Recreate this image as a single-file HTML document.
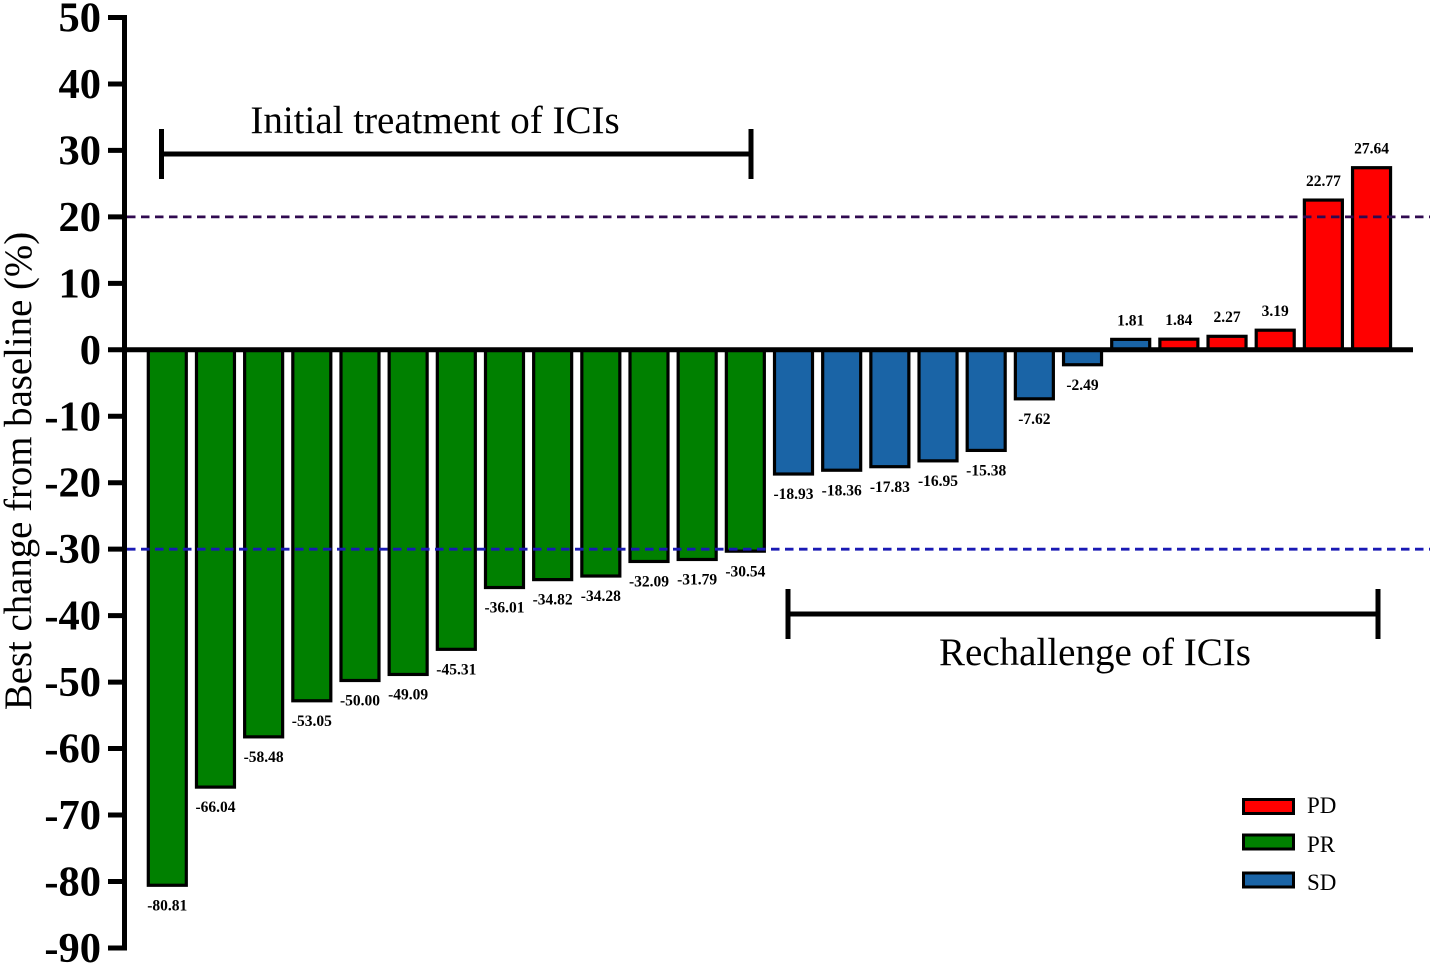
<!DOCTYPE html>
<html>
<head>
<meta charset="utf-8">
<style>
html,body{margin:0;padding:0;background:#fff;}
svg{display:block;font-family:"Liberation Serif",serif;}
</style>
</head>
<body>
<svg id="chart" width="1440" height="969" viewBox="0 0 1440 969" xmlns="http://www.w3.org/2000/svg"></svg>
<script>
const barValues = [-80.81,-66.04,-58.48,-53.05,-50.00,-49.09,-45.31,-36.01,-34.82,-34.28,-32.09,-31.79,-30.54,-18.93,-18.36,-17.83,-16.95,-15.38,-7.62,-2.49,1.81,1.84,2.27,3.19,22.77,27.64];
const barResponses = ["PR","PR","PR","PR","PR","PR","PR","PR","PR","PR","PR","PR","PR","SD","SD","SD","SD","SD","SD","SD","SD","PD","PD","PD","PD","PD"];
const yTicks = [50,40,30,20,10,0,-10,-20,-30,-40,-50,-60,-70,-80,-90];
const thresholds = [20,-30];
const legendEntries = ["PD","PR","SD"];

const svg = document.getElementById('chart');
const NS = 'http://www.w3.org/2000/svg';
const colors = {PD:'#ff0000',PR:'#008000',SD:'#1a64a6'};
const thresholdColors = ['#300a50','#1a1ab4'];
const yScale = v => 349.8 - v * 6.646;
const xScale = i => 167.3 + i * 48.17;

function make(tag, attrs, text) {
  const el = document.createElementNS(NS, tag);
  for (const k in attrs) el.setAttribute(k, attrs[k]);
  if (text !== undefined) el.textContent = text;
  svg.appendChild(el);
  return el;
}

// bars
barValues.forEach((v, i) => {
  const inset = 1.6;
  const end = yScale(v) + (v < 0 ? -inset : inset);
  const top = Math.min(end, yScale(0));
  const h = Math.abs(end - yScale(0));
  const bar = make('rect', {x: xScale(i) - 19, y: top, width: 38, height: h, fill: colors[barResponses[i]], stroke: '#000', 'stroke-width': 3.2});
  
  
  const ly = v < 0 ? yScale(v) + 23.5 : yScale(v) - 12.5;
  const label = make('text', {x: xScale(i), y: ly, 'text-anchor': 'middle', 'font-size': 15.5, 'font-weight': 'bold', fill: '#000'}, v.toFixed(2));
  
  
});

// threshold lines
thresholds.forEach((t, i) => {
  const line = make('line', {x1: 127, x2: 1430, y1: yScale(t), y2: yScale(t), stroke: thresholdColors[i], 'stroke-width': 2.8, 'stroke-dasharray': '8.5 5.5'});
  
  
});

// axes
const yAxis = make('line', {x1: 124.5, x2: 124.5, y1: yScale(50) - 2.5, y2: yScale(-90) + 2.5, stroke: '#000', 'stroke-width': 5});


const xAxis = make('line', {x1: 124, x2: 1413, y1: yScale(0), y2: yScale(0), stroke: '#000', 'stroke-width': 5});



yTicks.forEach(t => {
  const tick = make('line', {x1: 108, x2: 125, y1: yScale(t), y2: yScale(t), stroke: '#000', 'stroke-width': 5});
  
  
  const label = make('text', {x: 101, y: yScale(t) + 14, 'text-anchor': 'end', 'font-size': 42.5, 'font-weight': 'bold', fill: '#000'}, String(t));
  
  
});

// y-axis title
const yTitle = make('text', {x: 0, y: 0, transform: 'translate(31 471) rotate(-90)', 'text-anchor': 'middle', 'font-size': 38.8, fill: '#000'}, 'Best change from baseline (%)');



// brackets
function bracket(x1, x2, y, name) {
  const d = 'M' + x1 + ' ' + (y - 25) + 'V' + (y + 25) + 'M' + x1 + ' ' + y + 'H' + x2 + 'M' + x2 + ' ' + (y - 25) + 'V' + (y + 25);
  const p = make('path', {d: d, fill: 'none', stroke: '#000', 'stroke-width': 5});
  
  
}
bracket(161.5, 751, 154, 'initial-treatment-bracket');
bracket(788, 1378, 614, 'rechallenge-bracket');

const t1 = make('text', {x: 435, y: 133, 'text-anchor': 'middle', 'font-size': 39, fill: '#000'}, 'Initial treatment of ICIs');


const t2 = make('text', {x: 1095, y: 665, 'text-anchor': 'middle', 'font-size': 39, fill: '#000'}, 'Rechallenge of ICIs');



// legend
const legendRowY = [806.5, 842, 880];
const legendTextY = [813, 852, 890];
legendEntries.forEach((e, i) => {
  const sw = make('rect', {x: 1243.5, y: legendRowY[i] - 7, width: 50, height: 14, fill: colors[e], stroke: '#000', 'stroke-width': 3});
  
  
  const tx = make('text', {x: 1307, y: legendTextY[i], 'font-size': 23, fill: '#000'}, e);
  
  
});
</script>
</body>
</html>
